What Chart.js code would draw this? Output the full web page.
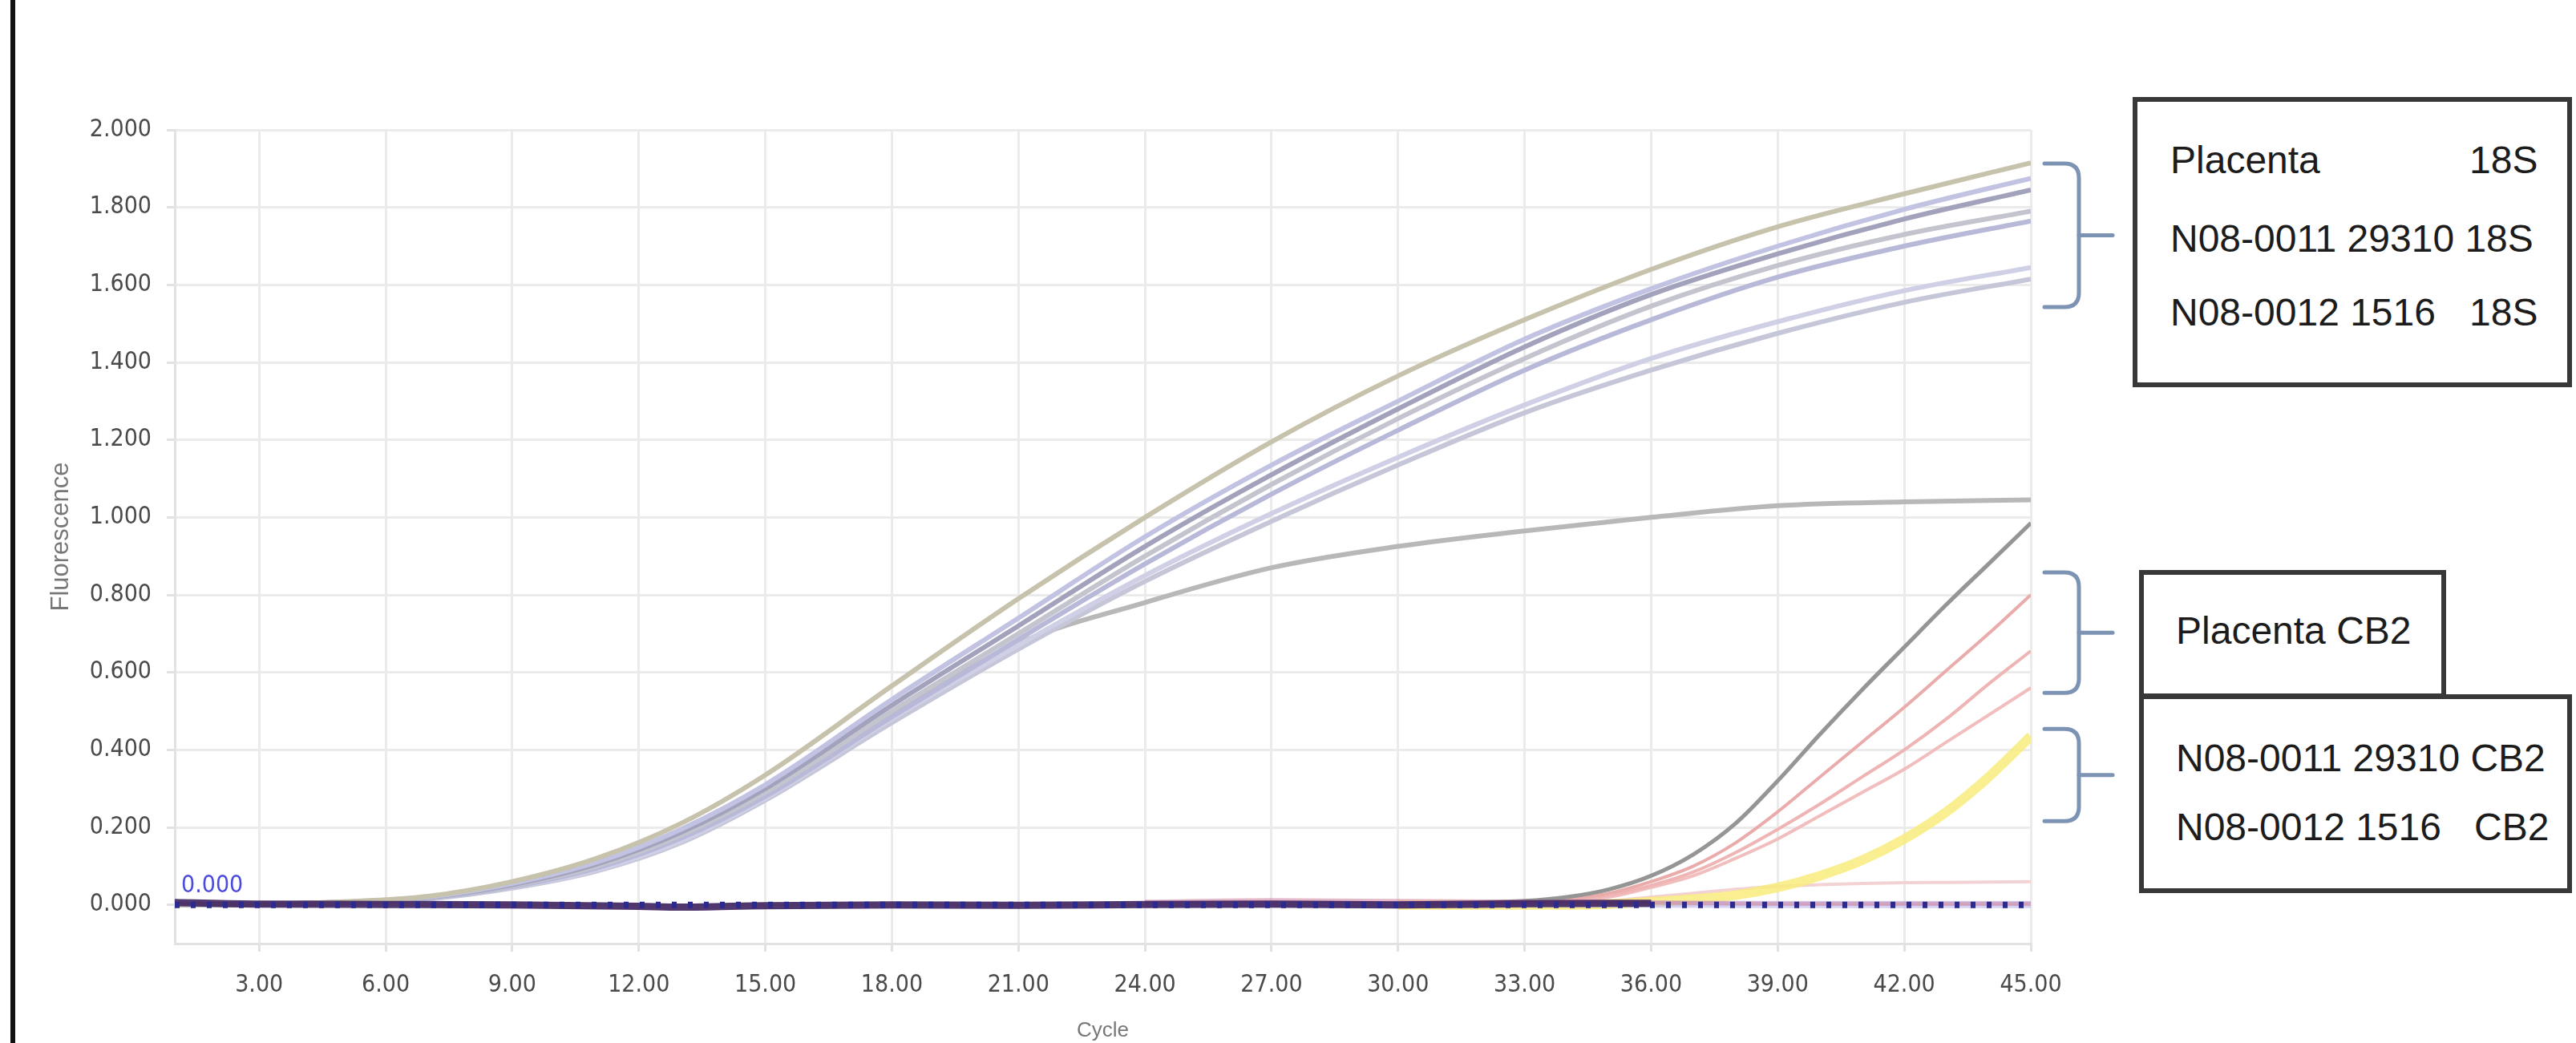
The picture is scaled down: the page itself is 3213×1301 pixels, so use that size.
<!DOCTYPE html>
<html>
<head>
<meta charset="utf-8">
<script src="https://cdn.jsdelivr.net/npm/chart.js@4.4.0/dist/chart.umd.min.js"></script>
<style>
  html, body { margin: 0; padding: 0; background: #fff; }
  #wrap { position: relative; width: 3213px; height: 1301px; overflow: hidden; }
  #edge { position: absolute; left: 13px; top: 0; width: 6px; height: 1301px; background: #111; }
  .box { position: absolute; border: 6px solid #383838; box-sizing: border-box; background: #fff; }
  .txt { position: absolute; font-family: 'Liberation Sans', Arial, sans-serif; font-size: 48px;
         color: #1c1c1c; line-height: 56px; white-space: pre; }
</style>
</head>
<body>
<div id="wrap">
  <canvas id="pcrChart"></canvas>
  <div id="edge"></div>

  <div class="box" style="left:2660px; top:121px; width:548px; height:362px;"></div>
  <div class="txt" style="left:2707px; top:172px;">Placenta</div>
  <div class="txt" style="left:3080px; top:172px;">18S</div>
  <div class="txt" style="left:2707px; top:270px;">N08-0011 29310 18S</div>
  <div class="txt" style="left:2707px; top:362px;">N08-0012 1516</div>
  <div class="txt" style="left:3080px; top:362px;">18S</div>

  <div class="box" style="left:2668px; top:711px; width:383px; height:160px;"></div>
  <div class="txt" style="left:2714px; top:759px;">Placenta CB2</div>

  <div class="box" style="left:2668px; top:866px; width:540px; height:248px;"></div>
  <div class="txt" style="left:2714px; top:918px;">N08-0011 29310 CB2</div>
  <div class="txt" style="left:2714px; top:1004px;">N08-0012 1516</div>
  <div class="txt" style="left:3086px; top:1004px;">CB2</div>
</div>

<script>
// cycles at which the 18S curves were read
const cycles18S = [1, 3, 5, 7, 9, 11, 13, 15, 18, 21, 24, 27, 30, 33, 36, 39, 42, 45];

// 18S amplification curves (placenta + two samples)
const s18S_1 = [0, 0.002, 0.008, 0.022, 0.060, 0.120, 0.210, 0.335, 0.565, 0.790, 1.000, 1.195, 1.365, 1.510, 1.640, 1.750, 1.835, 1.915];
const s18S_2 = [0, 0.002, 0.007, 0.020, 0.055, 0.110, 0.195, 0.310, 0.530, 0.740, 0.950, 1.135, 1.300, 1.460, 1.590, 1.700, 1.795, 1.875];
const s18S_3 = [0, 0.002, 0.007, 0.019, 0.052, 0.105, 0.187, 0.300, 0.515, 0.720, 0.925, 1.110, 1.280, 1.440, 1.575, 1.680, 1.770, 1.845];
const s18S_4 = [0, 0.002, 0.006, 0.018, 0.050, 0.100, 0.180, 0.290, 0.500, 0.700, 0.900, 1.085, 1.255, 1.410, 1.545, 1.650, 1.730, 1.790];
const s18S_5 = [0, 0.002, 0.006, 0.017, 0.047, 0.095, 0.172, 0.280, 0.485, 0.685, 0.880, 1.060, 1.225, 1.380, 1.510, 1.620, 1.700, 1.765];
const s18S_6 = [0, 0.002, 0.006, 0.016, 0.045, 0.090, 0.165, 0.275, 0.480, 0.670, 0.850, 1.010, 1.155, 1.290, 1.410, 1.505, 1.585, 1.645];
const s18S_7 = [0, 0.002, 0.005, 0.015, 0.043, 0.087, 0.160, 0.270, 0.470, 0.660, 0.835, 0.990, 1.135, 1.270, 1.380, 1.475, 1.555, 1.615];
const s18S_plateau = [0, 0.002, 0.006, 0.017, 0.048, 0.097, 0.175, 0.285, 0.490, 0.675, 0.780, 0.870, 0.925, 0.965, 1.000, 1.030, 1.040, 1.045];

// cycles at which the CB2 curves were read (flat on the baseline before)
const cyclesCB2 = [30, 33, 34, 35, 36, 37, 38, 39, 40, 41, 42, 43, 44, 45];

const cb2_gray   = [0.004, 0.010, 0.020, 0.040, 0.075, 0.130, 0.210, 0.320, 0.440, 0.555, 0.665, 0.775, 0.880, 0.985];
const cb2_pink1  = [0.004, 0.008, 0.015, 0.030, 0.060, 0.100, 0.160, 0.240, 0.330, 0.420, 0.510, 0.605, 0.700, 0.800];
const cb2_pink2  = [0.003, 0.006, 0.012, 0.025, 0.050, 0.085, 0.135, 0.195, 0.260, 0.330, 0.400, 0.480, 0.570, 0.655];
const cb2_pink3  = [0.003, 0.005, 0.010, 0.020, 0.045, 0.075, 0.120, 0.170, 0.230, 0.290, 0.350, 0.420, 0.490, 0.560];
const cb2_yellow = [0, 0, 0, 0.002, 0.008, 0.015, 0.025, 0.045, 0.075, 0.115, 0.170, 0.240, 0.330, 0.435];
const cb2_flat   = [0.004, 0.004, 0.006, 0.010, 0.020, 0.030, 0.040, 0.048, 0.052, 0.055, 0.057, 0.058, 0.059, 0.060];

// no-amplification baselines
const cyclesBase = [1, 3, 6, 9, 12, 13, 15, 18, 21, 24, 27, 30, 33, 36];
const baseDark  = [0.006, 0.002, 0.001, 0, -0.004, -0.006, -0.002, 0, -0.001, 0.001, 0.002, 0, 0.003, 0.004];
const cyclesBaseLate = [24, 27, 30, 33, 36, 39, 42, 45];
const baseMaroon = [0.008, 0.012, 0.010, 0.008, 0.006, 0.003, 0.003, 0.003];
const baseLavender = [0.002, 0.002, 0.001, 0.002, 0.002, 0.001, 0.001, 0.001];

// threshold
const thresholdValue = 0;
const thresholdLabel = '0.000';

// axes
const xMin = 1, xMax = 45, xStep = 3;
const yMin = -0.1, yMax = 2.0, yStep = 0.2;

// brace spans (fluorescence values) next to the annotation boxes
const braceRanges = [[1.913, 1.543], [0.858, 0.547], [0.454, 0.216]];

const toPoints = (cycles, values) => cycles.map((c, i) => ({ x: c, y: values[i] }));

function curve(cycles, values, color, width) {
    return {
        data: toPoints(cycles, values),
        borderColor: color,
        borderWidth: width,
        pointRadius: 0,
        fill: false,
        cubicInterpolationMode: 'monotone',
    };
}

const narrowFont = "'Liberation Sans Narrow', 'DejaVu Sans Condensed', 'Liberation Sans', sans-serif";

const extras = {
    id: 'extras',
    afterDraw(chart) {
        const { ctx, chartArea, scales } = chart;
        const x = scales.x, y = scales.y;
        ctx.save();
        // threshold label
        ctx.fillStyle = '#4b4bdc';
        ctx.font = '30px ' + narrowFont;
        ctx.textBaseline = 'bottom';
        ctx.fillText(thresholdLabel, x.getPixelForValue(xMin) + 8, y.getPixelForValue(thresholdValue) - 8);

        // braces
        ctx.strokeStyle = '#7d93b3';
        ctx.lineWidth = 5;
        ctx.lineCap = 'round';
        braceRanges.forEach(([top, bottom]) => {
            const yT = y.getPixelForValue(top), yB = y.getPixelForValue(bottom), yM = (yT + yB) / 2;
            const xL = chartArea.right + 17, xV = chartArea.right + 60, r = 18;
            ctx.beginPath();
            ctx.moveTo(xL, yT);
            ctx.lineTo(xV - r, yT);
            ctx.quadraticCurveTo(xV, yT, xV, yT + r);
            ctx.lineTo(xV, yB - r);
            ctx.quadraticCurveTo(xV, yB, xV - r, yB);
            ctx.lineTo(xL, yB);
            ctx.stroke();
            ctx.beginPath();
            ctx.moveTo(xV, yM);
            ctx.lineTo(xV + 42, yM);
            ctx.stroke();
        });
        ctx.restore();
    }
};

new Chart(document.getElementById('pcrChart').getContext('2d'), {
    type: 'line',
    data: {
        datasets: [
            {
                data: [{ x: xMin, y: thresholdValue }, { x: xMax, y: thresholdValue }],
                borderColor: '#2a2a90', borderWidth: 8, borderDash: [6, 14], pointRadius: 0,
            },
            curve(cyclesBase, baseDark, 'rgba(62, 36, 96, 0.9)', 9),
            curve(cyclesBaseLate, baseMaroon, 'rgba(205, 130, 160, 0.55)', 5),
            curve(cyclesBaseLate, baseLavender, 'rgba(180, 170, 225, 0.55)', 9),
            curve(cyclesCB2, cb2_gray, '#959595', 5),
            curve(cyclesCB2, cb2_pink1, '#eaabab', 4),
            curve(cyclesCB2, cb2_pink2, '#efb5b5', 4),
            curve(cyclesCB2, cb2_pink3, '#f1bdbd', 4),
            curve(cyclesCB2, cb2_yellow, 'rgba(249, 236, 125, 0.85)', 12),
            curve(cyclesCB2, cb2_flat, '#f2d2d2', 4),
            curve(cycles18S, s18S_1, '#c6c2ab', 6),
            curve(cycles18S, s18S_2, '#c2c2e2', 6),
            curve(cycles18S, s18S_3, '#a2a2bc', 6),
            curve(cycles18S, s18S_4, '#c4c4cf', 6),
            curve(cycles18S, s18S_5, '#b8b8d8', 6),
            curve(cycles18S, s18S_6, '#cfcfe6', 6),
            curve(cycles18S, s18S_7, '#c6c6d9', 6),
            curve(cycles18S, s18S_plateau, '#b8b8b8', 6),
        ],
    },
    options: {
        responsive: true,
        maintainAspectRatio: false,
        animation: false,
        layout: { padding: { left: 52, top: 162, right: 680, bottom: 0 } },
        plugins: { legend: { display: false }, tooltip: { enabled: false } },
        scales: {
            x: {
                type: 'linear',
                min: xMin,
                max: xMax,
                afterBuildTicks: s => { s.ticks = s.ticks.filter(t => t.value % xStep === 0); },
                afterFit: s => { s.height = 124; },
                ticks: {
                    stepSize: xStep,
                    callback: v => v.toFixed(2),
                    color: '#4a4a4a',
                    font: { family: narrowFont, size: 30 },
                    padding: 24,
                    maxRotation: 0,
                },
                grid: { color: '#ebebeb', lineWidth: 3, tickLength: 10, tickColor: '#e2e2e2' },
                border: { color: '#e2e2e2', width: 3 },
                title: {
                    display: true, text: 'Cycle', color: '#777',
                    font: { family: "'Liberation Sans', sans-serif", size: 26 },
                    padding: { top: 0, bottom: 0 },
                },
            },
            y: {
                min: yMin,
                max: yMax,
                afterBuildTicks: s => { s.ticks = s.ticks.filter(t => t.value >= 0); },
                afterFit: s => { s.width = 166; },
                ticks: {
                    stepSize: yStep,
                    callback: v => v.toFixed(3),
                    color: '#4a4a4a',
                    font: { family: narrowFont, size: 30 },
                    padding: 19,
                },
                grid: { color: '#ebebeb', lineWidth: 3, tickLength: 10, tickColor: '#e2e2e2' },
                border: { color: '#e2e2e2', width: 3 },
                title: {
                    display: true, text: 'Fluorescence', color: '#777',
                    font: { family: "'Liberation Sans', sans-serif", size: 31 },
                    padding: { top: 6, bottom: 0 },
                },
            },
        },
    },
    plugins: [extras],
});
</script>
</body>
</html>
